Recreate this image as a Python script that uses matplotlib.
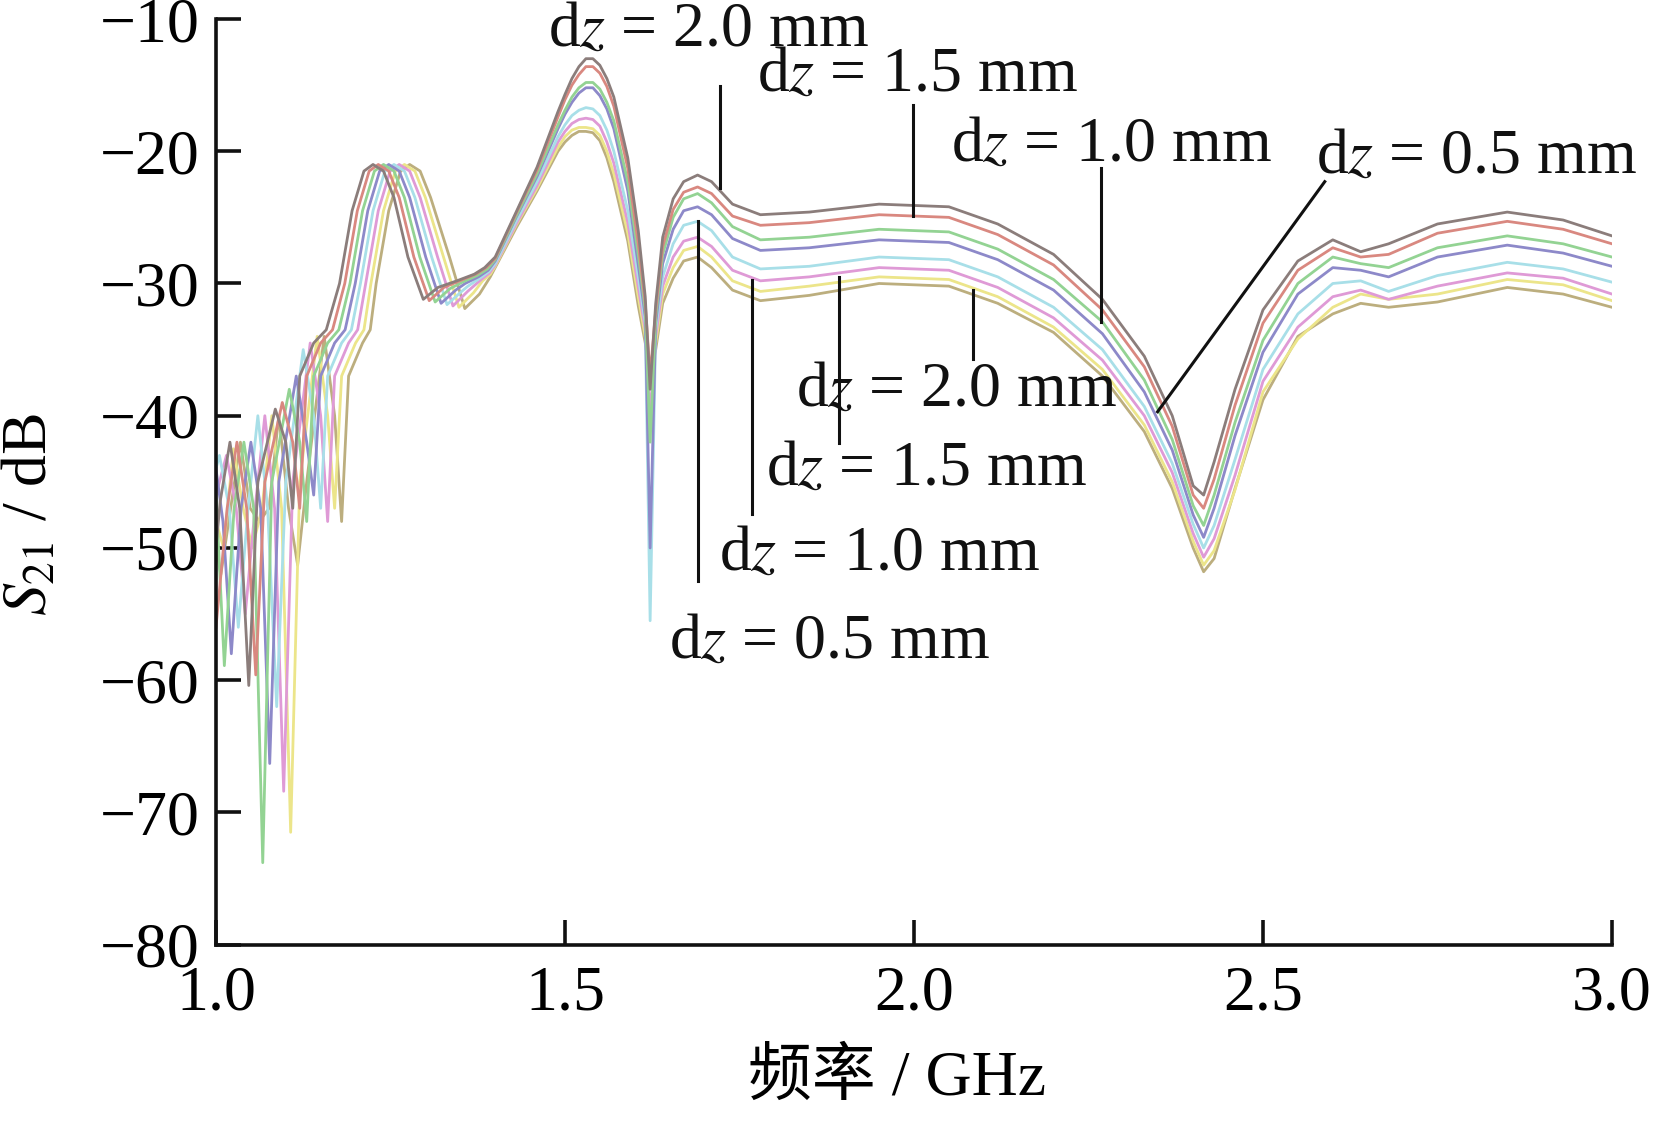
import numpy as np
import matplotlib.pyplot as plt

plt.rcParams['font.family'] = ['Liberation Serif', 'Noto Sans CJK SC']
plt.rcParams['mathtext.fontset'] = 'stix'

# shared frequency grid above 1.4 GHz (GHz)
freq_hi = [1.40, 1.43, 1.46, 1.49, 1.50, 1.51, 1.52, 1.53, 1.54, 1.55,
           1.56, 1.57, 1.59, 1.605, 1.615, 1.622, 1.63, 1.64, 1.655, 1.67,
           1.69, 1.71, 1.74, 1.78, 1.85, 1.95, 2.05, 2.12, 2.20, 2.27,
           2.33, 2.37, 2.40, 2.415, 2.43, 2.46, 2.50, 2.55, 2.60, 2.64,
           2.68, 2.75, 2.85, 2.93, 3.00]

# S21 (dB) on freq_hi, one list per curve
s21_hi_a20 = [-28.0, -24.6, -21.2, -17.0, -15.7, -14.5, -13.6, -13.0, -13.0, -13.5,
              -14.5, -15.9, -20.5, -26.0, -31.0, -38.0, -31.5, -26.5, -23.6, -22.3,
              -21.8, -22.3, -24.0, -24.8, -24.6, -24.0, -24.2, -25.5, -27.8, -31.2,
              -35.5, -40.0, -45.3, -46.0, -43.5, -38.0, -32.0, -28.3, -26.7, -27.6,
              -27.0, -25.5, -24.6, -25.2, -26.4]
s21_hi_a15 = [-28.1, -24.7, -21.4, -17.4, -16.1, -15.0, -14.2, -13.6, -13.6, -14.1,
              -15.1, -16.6, -21.3, -27.0, -31.5, -37.0, -32.0, -27.2, -24.4, -23.1,
              -22.7, -23.2, -24.9, -25.6, -25.4, -24.8, -25.0, -26.3, -28.6, -32.0,
              -36.3, -40.8, -46.0, -47.0, -44.8, -39.2, -33.0, -29.0, -27.3, -28.0,
              -27.8, -26.2, -25.3, -25.9, -27.0]
s21_hi_a10 = [-28.2, -24.9, -21.7, -18.0, -16.9, -15.9, -15.2, -14.8, -14.8, -15.3,
              -16.3, -17.7, -22.3, -27.8, -32.0, -42.0, -32.5, -27.8, -25.0, -23.6,
              -23.2, -23.9, -25.7, -26.7, -26.5, -25.9, -26.1, -27.4, -29.7, -32.9,
              -37.3, -41.8, -46.8, -48.3, -46.0, -40.5, -34.3, -30.0, -28.0, -28.5,
              -28.8, -27.3, -26.4, -27.0, -28.0]
s21_hi_a05 = [-28.3, -25.0, -21.9, -18.3, -17.2, -16.3, -15.6, -15.2, -15.2, -15.8,
              -16.8, -18.3, -23.0, -28.6, -32.5, -50.0, -33.0, -28.5, -25.9, -24.5,
              -24.2, -24.8, -26.6, -27.5, -27.3, -26.7, -26.9, -28.2, -30.5, -33.8,
              -38.2, -42.6, -47.5, -49.2, -47.0, -41.5, -35.2, -30.8, -28.8, -29.0,
              -29.5, -28.0, -27.1, -27.7, -28.7]
s21_hi_b05 = [-28.5, -25.3, -22.3, -18.9, -18.0, -17.3, -16.9, -16.7, -16.8, -17.3,
              -18.4, -20.0, -24.5, -29.5, -33.0, -55.5, -33.5, -29.5, -27.0, -25.6,
              -25.3, -26.0, -28.0, -28.9, -28.7, -28.0, -28.2, -29.5, -31.8, -35.0,
              -39.3, -43.6, -48.2, -50.0, -48.3, -43.3, -36.5, -32.3, -30.0, -29.8,
              -30.6, -29.4, -28.4, -28.9, -29.9]
s21_hi_b10 = [-28.6, -25.5, -22.6, -19.3, -18.5, -17.9, -17.6, -17.5, -17.6, -18.1,
              -19.3, -20.9, -25.4, -30.3, -33.5, -40.0, -34.0, -30.2, -28.0, -26.8,
              -26.5, -27.2, -29.0, -29.8, -29.5, -28.8, -29.0, -30.3, -32.6, -35.8,
              -40.0, -44.3, -48.9, -50.7, -49.3, -44.5, -37.4, -33.3, -31.0, -30.5,
              -31.2, -30.2, -29.2, -29.6, -30.8]
s21_hi_b15 = [-28.7, -25.6, -22.8, -19.7, -18.9, -18.4, -18.2, -18.2, -18.3, -18.8,
              -20.0, -21.7, -26.2, -31.0, -34.0, -36.5, -34.5, -30.8, -28.8, -27.5,
              -27.2, -28.0, -29.8, -30.6, -30.2, -29.5, -29.7, -31.0, -33.3, -36.5,
              -40.7, -45.0, -49.5, -51.3, -50.2, -45.6, -38.2, -34.2, -31.8, -30.8,
              -31.2, -30.8, -29.7, -30.1, -31.3]
s21_hi_b20 = [-28.8, -25.8, -23.0, -20.0, -19.3, -18.8, -18.5, -18.5, -18.6, -19.2,
              -20.5, -22.3, -26.8, -31.7, -34.5, -37.0, -35.0, -31.5, -29.6, -28.3,
              -28.0, -28.8, -30.5, -31.3, -30.9, -30.0, -30.2, -31.5, -33.7, -37.0,
              -41.2, -45.5, -50.0, -51.8, -50.8, -45.5, -38.8, -34.0, -32.3, -31.5,
              -31.8, -31.4, -30.3, -30.8, -31.8]

# ripple region below 1.4 GHz, own frequency points per curve
freq_lo_a20 = [1.000, 1.006, 1.020, 1.034, 1.047, 1.060, 1.085, 1.100, 1.110, 1.120,
               1.140, 1.158, 1.177, 1.195, 1.212, 1.225, 1.240, 1.255, 1.275, 1.297,
               1.318, 1.345, 1.370, 1.385]
s21_lo_a20 = [-50.0, -46.5, -42.0, -47.0, -60.4, -45.0, -39.5, -42.0, -47.0, -37.0,
              -34.5, -33.5, -30.0, -24.5, -21.5, -21.0, -21.5, -23.5, -28.0, -31.2,
              -30.3, -29.8, -29.3, -28.8]
freq_lo_a15 = [1.000, 1.016, 1.030, 1.044, 1.057, 1.070, 1.095, 1.110, 1.120, 1.130,
               1.150, 1.167, 1.1845, 1.2025, 1.2195, 1.2325, 1.2475, 1.2625, 1.2835, 1.3055,
               1.3265, 1.349, 1.372, 1.387]
s21_lo_a15 = [-56.0, -47.0, -42.0, -47.0, -59.6, -45.0, -39.0, -42.0, -47.0, -37.0,
              -34.5, -33.5, -30.0, -24.5, -21.5, -21.0, -21.5, -23.5, -28.0, -31.3,
              -30.3, -29.8, -29.3, -28.8]
freq_lo_a10 = [1.000, 1.012, 1.026, 1.040, 1.054, 1.067, 1.080, 1.105, 1.120, 1.130,
               1.140, 1.160, 1.176, 1.192, 1.210, 1.227, 1.240, 1.255, 1.270, 1.292,
               1.314, 1.335, 1.353, 1.374, 1.389]
s21_lo_a10 = [-46.0, -58.9, -47.0, -42.0, -47.0, -73.8, -45.0, -38.0, -42.0, -48.0,
              -37.0, -34.5, -33.5, -30.0, -24.5, -21.5, -21.0, -21.5, -23.5, -28.0,
              -31.4, -30.4, -29.9, -29.4, -28.9]
freq_lo_a05 = [1.000, 1.010, 1.022, 1.036, 1.050, 1.064, 1.077, 1.090, 1.115, 1.130,
               1.140, 1.150, 1.170, 1.185, 1.1995, 1.2175, 1.2345, 1.2475, 1.2625, 1.2775,
               1.3005, 1.3225, 1.3435, 1.357, 1.376, 1.390]
s21_lo_a05 = [-44.0, -48.0, -58.0, -47.0, -42.0, -47.0, -66.3, -45.0, -37.0, -42.0,
              -46.0, -37.0, -34.5, -33.5, -30.0, -24.5, -21.5, -21.0, -21.5, -23.5,
              -28.0, -31.5, -30.5, -30.0, -29.5, -29.0]
freq_lo_b05 = [1.000, 1.005, 1.019, 1.032, 1.046, 1.060, 1.074, 1.087, 1.100, 1.125,
               1.140, 1.150, 1.160, 1.180, 1.194, 1.207, 1.225, 1.242, 1.255, 1.270,
               1.285, 1.309, 1.331, 1.352, 1.361, 1.378, 1.391]
s21_lo_b05 = [-44.0, -43.0, -47.0, -56.0, -47.0, -40.0, -47.0, -62.0, -45.0, -35.0,
              -40.0, -47.0, -37.0, -34.5, -33.5, -30.0, -24.5, -21.5, -21.0, -21.5,
              -23.5, -28.0, -31.6, -30.6, -30.2, -29.6, -29.1]
freq_lo_b10 = [1.000, 1.015, 1.029, 1.042, 1.056, 1.070, 1.084, 1.097, 1.110, 1.135,
               1.150, 1.160, 1.170, 1.190, 1.203, 1.2145, 1.2325, 1.2495, 1.2625, 1.2775,
               1.2925, 1.3175, 1.3395, 1.3605, 1.380, 1.392]
s21_lo_b10 = [-46.0, -43.0, -47.0, -55.0, -47.0, -40.0, -47.0, -68.4, -45.0, -34.5,
              -40.0, -48.0, -37.0, -34.5, -33.5, -30.0, -24.5, -21.5, -21.0, -21.5,
              -23.5, -28.0, -31.7, -30.6, -29.7, -29.2]
freq_lo_b15 = [1.000, 1.011, 1.025, 1.039, 1.052, 1.066, 1.080, 1.094, 1.107, 1.120,
               1.145, 1.160, 1.170, 1.180, 1.200, 1.212, 1.222, 1.240, 1.257, 1.270,
               1.285, 1.300, 1.326, 1.348, 1.369, 1.382, 1.393]
s21_lo_b15 = [-48.0, -50.0, -42.5, -47.0, -50.0, -47.0, -40.0, -47.0, -71.5, -45.0,
              -34.0, -40.0, -47.0, -37.0, -34.5, -33.5, -30.0, -24.5, -21.5, -21.0,
              -21.5, -23.5, -28.0, -31.8, -30.7, -29.8, -29.3]
freq_lo_b20 = [1.000, 1.007, 1.021, 1.035, 1.049, 1.062, 1.076, 1.090, 1.104, 1.117,
               1.130, 1.155, 1.170, 1.180, 1.190, 1.210, 1.221, 1.2295, 1.2475, 1.2645,
               1.2775, 1.2925, 1.3075, 1.3345, 1.3565, 1.3775, 1.393]
s21_lo_b20 = [-50.0, -52.0, -47.0, -42.0, -47.0, -48.0, -47.0, -40.0, -47.0, -51.3,
              -45.0, -34.0, -40.0, -48.0, -37.0, -34.5, -33.5, -30.0, -24.5, -21.5,
              -21.0, -21.5, -23.5, -28.0, -31.9, -30.8, -29.5]

curves = [
    (freq_lo_a20, s21_lo_a20, s21_hi_a20, '#8b7d7b'),
    (freq_lo_a15, s21_lo_a15, s21_hi_a15, '#d98880'),
    (freq_lo_a10, s21_lo_a10, s21_hi_a10, '#93d393'),
    (freq_lo_a05, s21_lo_a05, s21_hi_a05, '#8d89c9'),
    (freq_lo_b05, s21_lo_b05, s21_hi_b05, '#a8dfe8'),
    (freq_lo_b10, s21_lo_b10, s21_hi_b10, '#df9ad6'),
    (freq_lo_b15, s21_lo_b15, s21_hi_b15, '#ece58a'),
    (freq_lo_b20, s21_lo_b20, s21_hi_b20, '#bcae7e'),
]

fig = plt.figure(figsize=(16.55, 11.25), dpi=100)
ax = fig.add_axes([0.1305, 0.1603, 0.8435, 0.8228])

for f_lo, s_lo, s_hi, col in curves[::-1]:
    f = np.concatenate([f_lo, freq_hi])
    s = np.concatenate([s_lo, s_hi])
    ax.plot(f, s, color=col, lw=2.0, solid_joinstyle='round')

ax.set_xlim(1.0, 3.0)
ax.set_ylim(-80, -10)
ax.set_xticks([1.0, 1.5, 2.0, 2.5, 3.0])
ax.set_xticklabels(['1.0', '1.5', '2.0', '2.5', '3.0'])
ax.set_yticks(np.arange(-80, -9, 10))

for side in ['top', 'right']:
    ax.spines[side].set_visible(False)
for side in ['left', 'bottom']:
    ax.spines[side].set_linewidth(2.6)
    ax.spines[side].set_color('#111111')
ax.tick_params(direction='in', length=18, width=2.6, labelsize=46, color='#111111')
ax.tick_params(axis='x', pad=15)
ax.tick_params(axis='y', pad=12)

ax.set_xlabel('频率 / GHz', fontsize=46, va='center')
ax.xaxis.set_label_coords(0.488, -0.145)
ax.set_ylabel('$S_{21}$ / dB', fontsize=46, va='center')
ax.yaxis.set_label_coords(-0.132, 0.464)

# annotations: text centre, line start, line end
notes = [
    ('2.0', (1.705, -10.9), (1.7216, -15.1), (1.7216, -22.8)),
    ('1.5', (2.0045, -14.3), (1.9985, -16.5), (1.9985, -24.9)),
    ('1.0', (2.283, -19.6), (2.268, -21.3), (2.268, -32.9)),
    ('0.5', (2.806, -20.5), (2.5885, -22.3), (2.349, -39.7)),
    ('2.0', (2.0605, -38.1), (2.0847, -30.5), (2.0847, -35.7)),
    ('1.5', (2.018, -44.1), (1.8926, -29.5), (1.8926, -42.1)),
    ('1.0', (1.950, -50.5), (1.7685, -29.7), (1.7685, -47.4)),
    ('0.5', (1.879, -57.2), (1.690, -25.3), (1.690, -52.5)),
]
for val, (tx, ty), (x0, y0), (x1, y1) in notes:
    ax.plot([x0, x1], [y0, y1], color='#111111', lw=2.2, clip_on=False)
    ax.text(tx, ty, 'd$z$ = ' + val + ' mm', fontsize=46, ha='center',
            va='center', color='#111111', clip_on=False)

fig.savefig('out.png', dpi=100)
